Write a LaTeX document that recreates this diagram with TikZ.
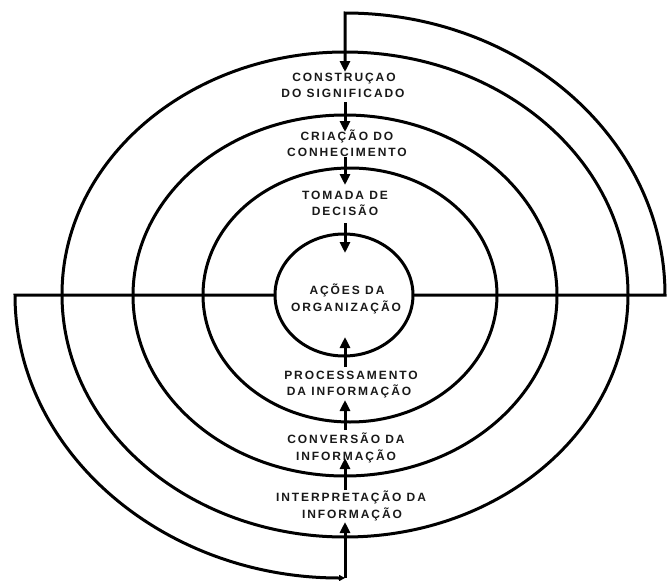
\documentclass[tikz,border=0pt]{standalone}
\usepackage{fontspec}
\newfontfamily\lblfont[LetterSpace=16, BoldFont={Liberation Sans Bold}]{Liberation Sans}
\usetikzlibrary{arrows.meta,shapes.geometric}
\tikzset{
  ln/.style={line width=3pt},
  ring/.style={draw, ellipse, line width=3pt, inner sep=0pt, outer sep=0pt},
  lbl/.style={font=\lblfont\bfseries\fontsize{12pt}{14pt}\selectfont, anchor=base, inner sep=0pt, text=black!90},
  arr/.style={line width=3pt, -{Triangle[length=11pt,width=10pt]}},
  smallarr/.style={line width=3pt, -{Triangle[length=6pt,width=6pt]}},
}
\begin{document}
\begin{tikzpicture}[x=1pt,y=-1pt]
\useasboundingbox (0,0) rectangle (667,581);
% rings
\node[ring, minimum width=138pt, minimum height=122pt] (r1) at (344,295) {};
\node[ring, minimum width=294pt, minimum height=254pt] (r2) at (350,295) {};
\node[ring, minimum width=424pt, minimum height=361pt] (r3) at (345,295.5) {};
\node[ring, minimum width=566pt, minimum height=485pt] (r4) at (345,294.5) {};
% labels
\node[lbl] (t1a) at (344,81) {CONSTRUÇAO};
\node[lbl] (t1b) at (343,97) {DO SIGNIFICADO};
\node[lbl] (t2a) at (347,140) {CRIAÇÃO DO};
\node[lbl] (t2b) at (347,156) {CONHECIMENTO};
\node[lbl] (t3a) at (345,199) {TOMADA DE};
\node[lbl] (t3b) at (345,215) {DECISÃO};
\node[lbl] (t4a) at (347,294) {AÇÕES DA};
\node[lbl] (t4b) at (346,311) {ORGANIZAÇÃO};
\node[lbl] (t5a) at (351,379) {PROCESSAMENTO};
\node[lbl] (t5b) at (349,395) {DA INFORMAÇÃO};
\node[lbl] (t6a) at (346,443) {CONVERSÃO DA};
\node[lbl] (t6b) at (346,460) {INFORMAÇÃO};
\node[lbl] (t7a) at (351,501) {INTERPRETAÇÃO DA};
\node[lbl] (t7b) at (352,518) {INFORMAÇÃO};
% coordinates
\coordinate (rc) at (665,295);
\coordinate (lc) at (15,295);
\coordinate (a1e) at (345,72);
\coordinate (a2s) at (345,102);
\coordinate (a2e) at (345,132);
\coordinate (a3s) at (345,157);
\coordinate (a3e) at (345,185);
\coordinate (a4s) at (345,223);
\coordinate (a4e) at (345,253);
\coordinate (a5s) at (345,367);
\coordinate (a5e) at (345,337);
\coordinate (a6s) at (345,430);
\coordinate (a6e) at (345,400);
\coordinate (a7s) at (345,490);
\coordinate (a7e) at (345,458);
\coordinate (bot) at (345,578);
\coordinate (a8e) at (345,522);
% outer spiral paths
\draw[arr] (r1.east) -- (rc) arc[start angle=0, end angle=90, x radius=320pt, y radius=282pt] -- (a1e);
\draw[smallarr] (r1.west) -- (lc) arc[start angle=180, end angle=270, x radius=330pt, y radius=283pt];
% inner arrows
\draw[arr] (a2s) -- (a2e);
\draw[arr] (a3s) -- (a3e);
\draw[arr] (a4s) -- (a4e);
\draw[arr] (a5s) -- (a5e);
\draw[arr] (a6s) -- (a6e);
\draw[arr] (a7s) -- (a7e);
\draw[arr] (bot) -- (a8e);
\end{tikzpicture}
\end{document}
